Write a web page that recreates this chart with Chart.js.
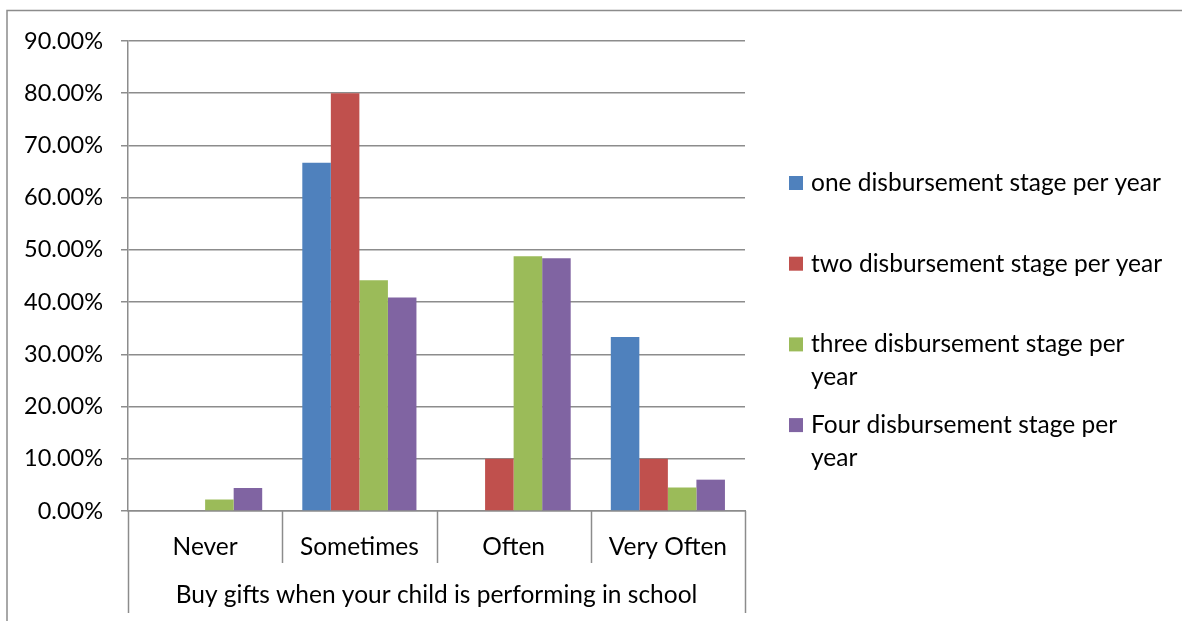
<!DOCTYPE html>
<html>
<head>
<meta charset="utf-8">
<script src="https://cdn.jsdelivr.net/npm/chart.js@4.4.1/dist/chart.umd.min.js"></script>
<style>
  html, body { margin: 0; padding: 0; background: #ffffff; }
  #wrap { position: relative; width: 1182px; height: 621px; }
</style>
</head>
<body>
<div id="wrap"><canvas id="c" width="1182" height="621"></canvas></div>
<script>
// ---- data ----
const categories = ["Never", "Sometimes", "Often", "Very Often"];
const groupTitle = "Buy gifts when your child is performing in school";
const seriesNames = [
  "one disbursement stage per year",
  "two disbursement stage per year",
  "three disbursement stage per year",
  "Four disbursement stage per year"
];
const oneStage   = [0, 66.67, 0, 33.33];
const twoStage   = [0, 80.00, 10.00, 10.00];
const threeStage = [2.2, 44.2, 48.8, 4.5];
const fourStage  = [4.4, 40.9, 48.4, 6.0];
const yTicks = [0, 10, 20, 30, 40, 50, 60, 70, 80, 90];
const colors = ["#4F81BD", "#C0504D", "#9BBB59", "#8064A2"];

// ---- style ----
const FONT = "Lato";
const FSIZE = 24.5;
const TSIZE = 23.5;
const LINE = "#8c8c8c";

Chart.defaults.color = "#000";
Chart.defaults.font.family = FONT;
Chart.defaults.font.size = FSIZE;

const decor = {
  id: "decor",
  afterDraw(chart) {
    const ctx = chart.ctx, a = chart.chartArea;
    ctx.save();
    ctx.strokeStyle = LINE;
    ctx.lineWidth = 1.5;
    // outer chart frame (left & top visible)
    ctx.beginPath();
    ctx.moveTo(7, chart.height);
    ctx.lineTo(7, 10.5);
    ctx.lineTo(chart.width, 10.5);
    ctx.stroke();
    // multi-level category separators
    const n = categories.length;
    const w = (a.right - a.left) / n;
    for (let i = 0; i <= n; i++) {
      const x = Math.round(a.left + i * w) + 0.5;
      const yEnd = (i === 0 || i === n) ? a.bottom + 102 : a.bottom + 52;
      ctx.beginPath();
      ctx.moveTo(x, a.bottom);
      ctx.lineTo(x, yEnd);
      ctx.stroke();
    }
    // group title
    ctx.fillStyle = "#000";
    ctx.font = FSIZE + "px " + FONT;
    ctx.textAlign = "center";
    ctx.textBaseline = "middle";
    ctx.fillText(groupTitle, (a.left + a.right) / 2, a.bottom + 84);

    // legend
    const sqX = a.right + 44, txX = a.right + 66;
    const firstY = 183, step = 80.7, lh = 32.5, maxW = 355;
    ctx.textAlign = "left";
    chart.data.datasets.forEach((ds, i) => {
      const cy = firstY + i * step;
      ctx.fillStyle = ds.backgroundColor;
      ctx.fillRect(sqX, cy - 7, 14, 14);
      // wrap words
      const words = ds.label.split(" ");
      const lines = [];
      let cur = "";
      words.forEach(wd => {
        const t = cur ? cur + " " + wd : wd;
        if (ctx.measureText(t).width > maxW && cur) { lines.push(cur); cur = wd; }
        else cur = t;
      });
      if (cur) lines.push(cur);
      ctx.fillStyle = "#000";
      lines.forEach((ln, j) => ctx.fillText(ln, txX, cy + j * lh));
    });
    ctx.restore();
  }
};

const seriesData = [oneStage, twoStage, threeStage, fourStage];

new Chart(document.getElementById("c"), {
  type: "bar",
  data: {
    labels: categories,
    datasets: seriesNames.map((name, i) => ({
      label: name,
      data: seriesData[i],
      backgroundColor: colors[i],
      borderWidth: 0,
      categoryPercentage: 0.74,
      barPercentage: 1.0
    }))
  },
  options: {
    responsive: false,
    animation: false,
    devicePixelRatio: 1,
    layout: { padding: { left: 0, top: 41, right: 1182 - 745, bottom: 0 } },
    plugins: { legend: { display: false }, tooltip: { enabled: false } },
    scales: {
      x: {
        grid: { display: false, drawTicks: false },
        border: { display: true, color: LINE, width: 1.5 },
        ticks: { padding: 21.5, font: { size: FSIZE } },
        afterFit(scale) { scale.height = 110; }
      },
      y: {
        min: 0,
        max: yTicks[yTicks.length - 1],
        afterBuildTicks(scale) { scale.ticks = yTicks.map(v => ({ value: v })); },
        grid: { color: LINE, lineWidth: 1.5, tickLength: 7, drawTicks: true },
        border: { display: true, color: LINE, width: 1.5 },
        ticks: {
          padding: 18,
          font: { size: TSIZE },
          callback: v => Number(v).toFixed(2) + "%"
        },
        afterFit(scale) { scale.width = 128; }
      }
    }
  },
  plugins: [decor]
});
</script>
</body>
</html>
